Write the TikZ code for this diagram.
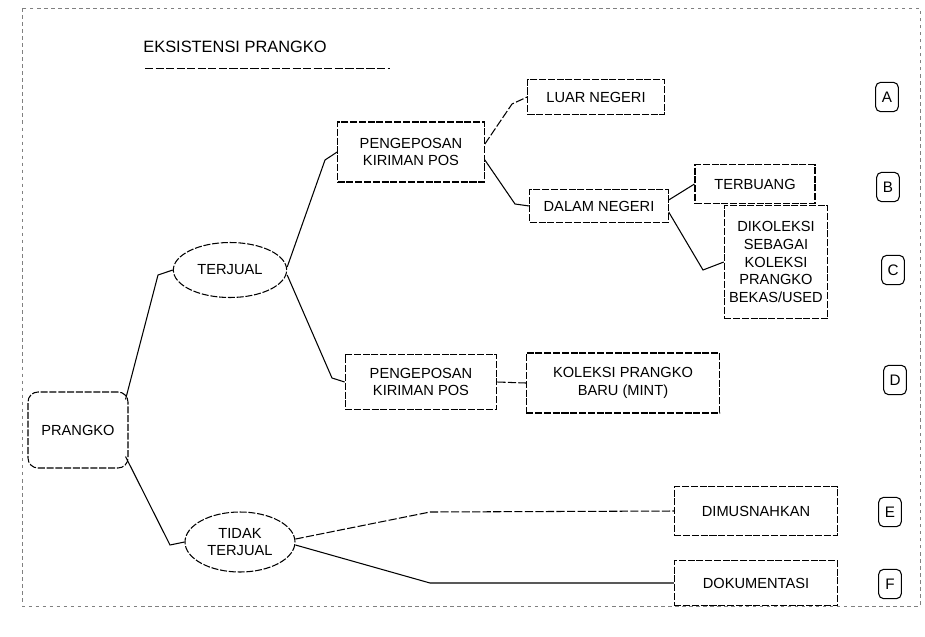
\documentclass[tikz,border=0pt]{standalone}
\usepackage{fontspec}
\setmainfont{Liberation Sans}
\usepackage{tikz}
\usetikzlibrary{positioning, calc, shapes.geometric}
\tikzset{box/.style={draw, dashed, dash pattern=on 6pt off 1.5pt, align=center, line width=0.9pt, inner sep=0pt}}
\tikzset{oval/.style={draw, ellipse, dashed, dash pattern=on 6pt off 1.5pt, align=center, line width=0.9pt, inner sep=0pt}}
\tikzset{tag/.style={draw, rounded corners=1.5mm, line width=0.9pt, minimum width=0.68cm, minimum height=0.88cm, font=\fontsize{13}{15}\selectfont}}

\begin{document}
\begin{tikzpicture}
    [x=0.03cm, y=-0.03cm,
      txt/.style={font=\fontsize{12.5}{15}\selectfont},
      link/.style={line width=0.9pt},
      dlink/.style={line width=0.9pt, dashed, dash pattern=on 7pt off 2pt}]

    \useasboundingbox (0,0) rectangle (925,636);
    \draw[dashed, line width=0.5pt, gray] (22,8) rectangle (920,606);

    % title
    \node[txt, font=\fontsize{14}{16}\selectfont] (title) at (235,47) {EKSISTENSI PRANGKO};
    \draw[dlink, line width=0.7pt] (145,68) -- (390,68);

    % main nodes
    \node[box, rounded corners=3mm, minimum width=3cm, minimum height=2.28cm, txt] (P) at (78,430) {PRANGKO};
    \node[oval, minimum width=3.4cm, minimum height=1.65cm, txt] (T) at (230,270) {TERJUAL};
    \node[oval, minimum width=3.3cm, minimum height=1.8cm, txt] (TT) at (240,542) {TIDAK\\TERJUAL};

    \node[box, minimum width=4.4cm, minimum height=1.8cm, txt] (K1) at (411,152) {PENGEPOSAN\\KIRIMAN POS};
    \node[box, minimum width=4.1cm, minimum height=1.05cm, txt] (LN) at (596,97) {LUAR NEGERI};
    \node[box, minimum width=4.15cm, minimum height=0.98cm, txt] (DN) at (599,206) {DALAM NEGERI};
    \node[box, minimum width=3.6cm, minimum height=1.15cm, txt] (TB) at (755,184) {TERBUANG};
    \node[box, minimum width=3.1cm, minimum height=3.4cm, txt] (DK) at (776,262) {DIKOLEKSI\\SEBAGAI\\KOLEKSI\\PRANGKO\\BEKAS/USED};

    \node[box, minimum width=4.55cm, minimum height=1.65cm, txt] (K2) at (421,382) {PENGEPOSAN\\KIRIMAN POS};
    \node[box, minimum width=5.8cm, minimum height=1.8cm, txt] (KB) at (623,383) {KOLEKSI PRANGKO\\BARU (MINT)};

    \node[box, minimum width=4.9cm, minimum height=1.45cm, txt] (DM) at (756,511) {DIMUSNAHKAN};
    \node[box, minimum width=4.9cm, minimum height=1.35cm, txt] (DO) at (756,583) {DOKUMENTASI};

    % labels
    \node[tag] (A) at (887,97) {A};
    \node[tag] (B) at (888,187) {B};
    \node[tag] (C) at (893,270) {C};
    \node[tag] (D) at (895,380) {D};
    \node[tag] (E) at (890,512) {E};
    \node[tag] (F) at (890,584) {F};

    % connectors
    \draw[link] ($(P.north east)+(-3,8)$) -- (158,275) -- (T.west);
    \draw[link] ($(P.south east)+(-3,-12)$) -- (170,545) -- (TT.west);

    \draw[link] ($(T.east)+(0,-3)$) -- (325,160) -- (K1.west);
    \draw[link] ($(T.east)+(0,5)$) -- (332,378) -- (K2.west);

    \draw[dlink] ($(K1.east)+(0,-8)$) -- (512,104) -- (LN.west);
    \draw[link] ($(K1.east)+(0,8)$) -- (515,204) -- (DN.west);

    \draw[link] ($(DN.east)+(0,-6)$) -- (TB.west);
    \draw[link] ($(DN.east)+(0,6)$) -- (703,270) -- (DK.west);

    \draw[dlink] (K2.east) -- (KB.west);

    \draw[dlink] ($(TT.east)+(0,-3)$) -- (430,512) -- (DM.west);
    \draw[link] ($(TT.east)+(0,3)$) -- (430,583) -- (DO.west);
  \end{tikzpicture}
\end{document}
